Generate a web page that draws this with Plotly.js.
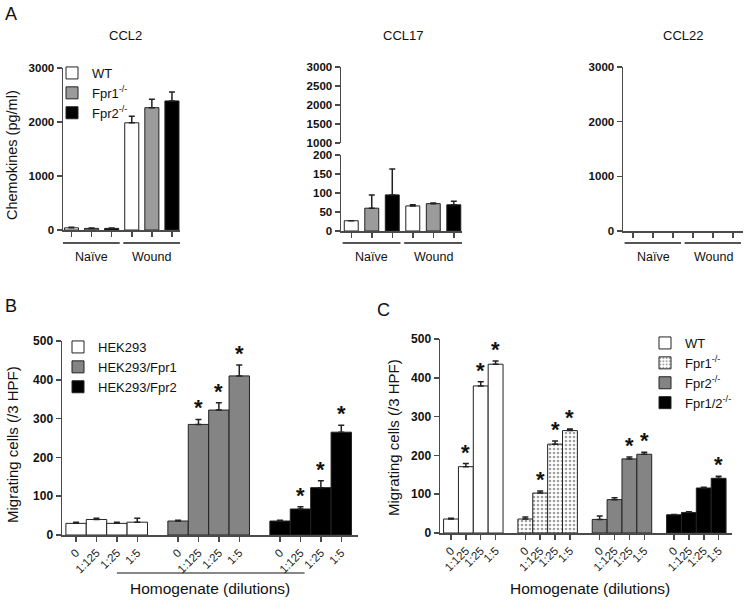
<!DOCTYPE html>
<html><head><meta charset="utf-8">
<script src="https://cdn.plot.ly/plotly-3.0.1.min.js"></script>
<style>html,body{margin:0;padding:0;background:#fff}#chart{width:748px;height:600px}</style>
</head><body><div id="chart"></div>
<script>
// ---------- Panel A data ----------
const chemoGroups = ['Naïve', 'Wound'];
const genotypesA = ['WT', 'Fpr1<sup>-/-</sup>', 'Fpr2<sup>-/-</sup>'];
const ccl2WT = [40, 1985];   const ccl2WTErr = [10, 120];
const ccl2Fpr1 = [30, 2265]; const ccl2Fpr1Err = [8, 155];
const ccl2Fpr2 = [30, 2390]; const ccl2Fpr2Err = [8, 165];
const ccl17WT = [27, 66];    const ccl17WTErr = [0, 3];
const ccl17Fpr1 = [60, 72];  const ccl17Fpr1Err = [35, 2];
const ccl17Fpr2 = [95, 69];  const ccl17Fpr2Err = [68, 9];
const ccl22WT = [null, null]; const ccl22Fpr1 = [null, null]; const ccl22Fpr2 = [null, null];
const chemoTicksLow = [0, 50, 100, 150, 200];
const chemoTicksHigh = [1000, 1500, 2000, 2500, 3000];

// ---------- Panel B data ----------
const dilutions = ['0', '1:125', '1:25', '1:5'];
const cellsB = ['HEK293', 'HEK293/Fpr1', 'HEK293/Fpr2'];
const hek = [30, 40, 30, 33];         const hekErr = [3, 3, 3, 10];
const hekFpr1 = [36, 285, 322, 410];  const hekFpr1Err = [2, 13, 19, 28];
const hekFpr2 = [36, 67, 122, 265];   const hekFpr2Err = [2, 6, 18, 18];
const hekSig = [0, 0, 0, 0];
const hekFpr1Sig = [0, 1, 1, 1];
const hekFpr2Sig = [0, 1, 1, 1];

// ---------- Panel C data ----------
const genotypesC = ['WT', 'Fpr1<sup>-/-</sup>', 'Fpr2<sup>-/-</sup>', 'Fpr1/2<sup>-/-</sup>'];
const cWT = [36, 171, 379, 435];     const cWTErr = [2, 8, 11, 8];
const cFpr1 = [36, 103, 229, 264];   const cFpr1Err = [5, 5, 8, 4];
const cFpr2 = [35, 86, 191, 203];    const cFpr2Err = [9, 5, 5, 5];
const cFpr12 = [47, 53, 116, 141];   const cFpr12Err = [1, 2, 2, 5];
const cWTSig = [0, 1, 1, 1];
const cFpr1Sig = [0, 1, 1, 1];
const cFpr2Sig = [0, 0, 1, 1];
const cFpr12Sig = [0, 0, 0, 1];

// ---------- helpers ----------
const W = 748, H = 600;
const px = v => v / W, py = v => 1 - v / H;
const FONT = 'Liberation Sans, Arial, sans-serif';
const AX = '#4a4a4a';
const EB = '#222';

function errY(arr) {
  return {type: 'data', symmetric: false, array: arr, arrayminus: arr.map(() => 0),
          color: EB, thickness: 1.5, width: 3, visible: true};
}
function yAxis(domain, range, tickvals, anchor, size) {
  return {domain, range, tickvals, anchor, showline: true, linecolor: AX, linewidth: 1.5,
          ticks: 'outside', ticklen: 5, tickcolor: AX, tickwidth: 1.5,
          tickfont: {family: FONT, size: size || 11.5, color: '#111', weight: 'bold'},
          showgrid: false, zeroline: false, fixedrange: true};
}
function xAxisA(domain, range, anchor, n) {
  return {domain, range, anchor, showline: true, linecolor: AX, linewidth: 1.5,
          ticks: 'outside', ticklen: 5, tickcolor: AX, tickwidth: 1.5,
          tickvals: Array.from({length: n}, (_, i) => i), showticklabels: false,
          showgrid: false, zeroline: false, fixedrange: true};
}

const traces = [];
const lineBar = {color: '#222', width: 1};

// Panel A: CCL2
const colA = ['#ffffff', '#9b9b9b', '#000000'];
const ccl2 = [[ccl2WT, ccl2WTErr], [ccl2Fpr1, ccl2Fpr1Err], [ccl2Fpr2, ccl2Fpr2Err]];
ccl2.forEach(([v, e], k) => {
  traces.push({type: 'bar', name: genotypesA[k], x: chemoGroups.map((g, gi) => gi * 3 + k), y: v,
    width: 0.7, marker: {color: colA[k], line: lineBar}, error_y: errY(e),
    xaxis: 'x', yaxis: 'y', legend: 'legend', showlegend: true});
});
// CCL17
const ccl17 = [[ccl17WT, ccl17WTErr], [ccl17Fpr1, ccl17Fpr1Err], [ccl17Fpr2, ccl17Fpr2Err]];
ccl17.forEach(([v, e], k) => {
  traces.push({type: 'bar', name: genotypesA[k], x: chemoGroups.map((g, gi) => gi * 3 + k), y: v,
    width: 0.68, marker: {color: colA[k], line: lineBar}, error_y: errY(e),
    xaxis: 'x2', yaxis: 'y2', showlegend: false});
});
traces.push({type: 'scatter', x: [], y: [], xaxis: 'x2', yaxis: 'y3', showlegend: false, hoverinfo: 'skip'});
// CCL22
[ccl22WT, ccl22Fpr1, ccl22Fpr2].forEach((v, k) => {
  traces.push({type: 'bar', name: genotypesA[k], x: chemoGroups.map((g, gi) => gi * 3 + k), y: v,
    width: 0.68, marker: {color: colA[k], line: lineBar}, xaxis: 'x3', yaxis: 'y4', showlegend: false});
});

// Panel B
const colB = ['#ffffff', '#848484', '#000000'];
const seriesB = [[hek, hekErr, hekSig], [hekFpr1, hekFpr1Err, hekFpr1Sig], [hekFpr2, hekFpr2Err, hekFpr2Sig]];
seriesB.forEach(([v, e], k) => {
  traces.push({type: 'bar', name: cellsB[k], x: dilutions.map((d, i) => k * 5 + i), y: v,
    width: 1, marker: {color: colB[k], line: lineBar}, error_y: errY(e),
    xaxis: 'x4', yaxis: 'y5', legend: 'legend2', showlegend: true});
});

// Panel C
const seriesC = [[cWT, cWTErr, cWTSig], [cFpr1, cFpr1Err, cFpr1Sig], [cFpr2, cFpr2Err, cFpr2Sig], [cFpr12, cFpr12Err, cFpr12Sig]];
const markC = [
  {color: '#ffffff', line: lineBar},
  {color: '#ffffff', line: lineBar, pattern: {shape: '.', fgcolor: '#444', bgcolor: '#ffffff', size: 4, solidity: 0.35, fillmode: 'overlay'}},
  {color: '#848484', line: lineBar},
  {color: '#000000', line: lineBar}
];
seriesC.forEach(([v, e], k) => {
  traces.push({type: 'bar', name: genotypesC[k], x: dilutions.map((d, i) => k * 5 + i), y: v,
    width: 1, marker: markC[k], error_y: errY(e),
    xaxis: 'x5', yaxis: 'y6', legend: 'legend3', showlegend: true});
});

// ---------- annotations & shapes ----------
const ann = [];
const shapes = [];
function txt(x, y, text, size, opts) {
  ann.push(Object.assign({xref: 'paper', yref: 'paper', x: px(x), y: py(y), text, showarrow: false,
    font: {family: FONT, size, color: '#111'}, xanchor: 'center', yanchor: 'middle'}, opts || {}));
}
txt(11, 14, 'A', 18); txt(11, 306, 'B', 18); txt(383, 310, 'C', 18);
txt(125, 35, 'CCL2', 13); txt(403, 35, 'CCL17', 13); txt(683, 35, 'CCL22', 13);
txt(12, 155, 'Chemokines (pg/ml)', 14.5, {textangle: -90});
txt(12, 445, 'Migrating cells (/3 HPF)', 15, {textangle: -90});
txt(393, 438, 'Migrating cells (/3 HPF)', 15, {textangle: -90});
txt(210, 588, 'Homogenate (dilutions)', 15.5);
txt(590, 588, 'Homogenate (dilutions)', 15.5);

// group lines and labels for panel A
['x', 'x2', 'x3'].forEach(xr => {
  chemoGroups.forEach((g, gi) => {
    shapes.push({type: 'line', xref: xr, yref: 'paper', x0: gi * 3 - 0.42, x1: gi * 3 + 2.4,
      y0: py(243), y1: py(243), line: {color: '#555', width: 2}});
    ann.push({xref: xr, yref: 'paper', x: gi * 3 + 1, y: py(257), text: g, showarrow: false,
      font: {family: FONT, size: 12.5, color: '#111'}, xanchor: 'center', yanchor: 'middle'});
  });
});
// underline in panel B
shapes.push({type: 'line', xref: 'x4', yref: 'paper', x0: 2, x1: 11.2, y0: py(573), y1: py(573),
  line: {color: '#111', width: 1}});

// significance asterisks
function stars(series, xr, yr) {
  series.forEach(([v, e, s], k) => {
    s.forEach((flag, i) => {
      if (flag) ann.push({xref: xr, yref: yr, x: k * 5 + i, y: v[i] + e[i], text: '*', showarrow: false,
        font: {family: FONT, size: 22, color: '#111', weight: 'bold'}, xanchor: 'center', yanchor: 'bottom', yshift: -3});
    });
  });
}
stars(seriesB, 'x4', 'y5');
stars(seriesC, 'x5', 'y6');

const tickB = [], tickTextB = [];
cellsB.forEach((c, k) => dilutions.forEach((d, i) => { tickB.push(k * 5 + i); tickTextB.push(d); }));
const tickC = [], tickTextC = [];
genotypesC.forEach((c, k) => dilutions.forEach((d, i) => { tickC.push(k * 5 + i); tickTextC.push(d); }));

function xAxisBC(domain, range, anchor, tv, tt) {
  return {domain, range, anchor, showline: true, linecolor: AX, linewidth: 1.5,
          ticks: 'outside', ticklen: 5, tickcolor: AX, tickwidth: 1.5,
          tickvals: tv, ticktext: tt, tickangle: -45,
          tickfont: {family: FONT, size: 11.5, color: '#222'},
          showgrid: false, zeroline: false, fixedrange: true};
}

const legFont = {family: FONT, size: 13, color: '#111'};
const layout = {
  width: W, height: H, margin: {l: 0, r: 0, t: 0, b: 0},
  paper_bgcolor: '#fff', plot_bgcolor: 'rgba(0,0,0,0)',
  font: {family: FONT}, barmode: 'overlay', showlegend: true,
  xaxis: xAxisA([px(63), px(180)], [-0.42, 5.4], 'y', 6),
  yaxis: yAxis([py(230), py(68)], [0, 3000], [0, 1000, 2000, 3000], 'x'),
  xaxis2: xAxisA([px(341), px(462)], [-0.5, 5.4], 'y2', 6),
  yaxis2: yAxis([py(231), py(155)], [0, 200], chemoTicksLow, 'x2'),
  yaxis3: yAxis([py(143), py(67)], [1000, 3000], chemoTicksHigh, 'x2'),
  xaxis3: xAxisA([px(623), px(743)], [-0.5, 5.5], 'y4', 6),
  yaxis4: yAxis([py(231), py(67)], [0, 3000], [0, 1000, 2000, 3000], 'x3'),
  xaxis4: xAxisBC([px(62), px(358)], [-0.69, 13.82], 'y5', tickB, tickTextB),
  yaxis5: yAxis([py(535), py(341)], [0, 500], [0, 100, 200, 300, 400, 500], 'x4', 12),
  xaxis5: xAxisBC([px(440), px(732)], [-0.74, 18.9], 'y6', tickC, tickTextC),
  yaxis6: yAxis([py(533), py(339)], [0, 500], [0, 100, 200, 300, 400, 500], 'x5', 12),
  legend: {x: px(52), y: py(58), xanchor: 'left', yanchor: 'top', font: legFont, bgcolor: 'rgba(0,0,0,0)', traceorder: 'normal', tracegroupgap: 0},
  legend2: {x: px(58), y: py(332), xanchor: 'left', yanchor: 'top', font: legFont, bgcolor: 'rgba(0,0,0,0)', traceorder: 'normal', tracegroupgap: 0},
  legend3: {x: px(645), y: py(328), xanchor: 'left', yanchor: 'top', font: legFont, bgcolor: 'rgba(0,0,0,0)', traceorder: 'normal', tracegroupgap: 0},
  annotations: ann, shapes
};

Plotly.newPlot('chart', traces, layout, {displayModeBar: false, staticPlot: true});
</script></body></html>
